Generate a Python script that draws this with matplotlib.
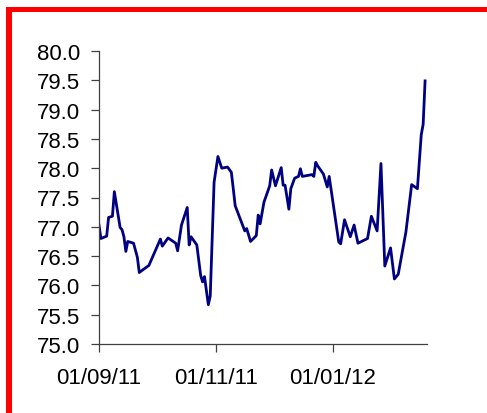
import matplotlib
matplotlib.use("Agg")
import matplotlib.pyplot as plt
from matplotlib.patches import Rectangle
import pandas as pd

dates = [
    "2011-09-01", "2011-09-02", "2011-09-05", "2011-09-06", "2011-09-08", "2011-09-09",
    "2011-09-12", "2011-09-13", "2011-09-14", "2011-09-15", "2011-09-16", "2011-09-19",
    "2011-09-21", "2011-09-22", "2011-09-24", "2011-09-27", "2011-10-03", "2011-10-04",
    "2011-10-07", "2011-10-11", "2011-10-12", "2011-10-14", "2011-10-17", "2011-10-18",
    "2011-10-19", "2011-10-22", "2011-10-24", "2011-10-25", "2011-10-26", "2011-10-28",
    "2011-10-29", "2011-10-31", "2011-11-02", "2011-11-04", "2011-11-07", "2011-11-09",
    "2011-11-10", "2011-11-11", "2011-11-16", "2011-11-17", "2011-11-19", "2011-11-22",
    "2011-11-23", "2011-11-24", "2011-11-26", "2011-11-29", "2011-11-30", "2011-12-02",
    "2011-12-05", "2011-12-06", "2011-12-07", "2011-12-09", "2011-12-10", "2011-12-12",
    "2011-12-14", "2011-12-15", "2011-12-16", "2011-12-21", "2011-12-22", "2011-12-23",
    "2011-12-24", "2011-12-27", "2011-12-29", "2011-12-30", "2012-01-04", "2012-01-05",
    "2012-01-07", "2012-01-10", "2012-01-12", "2012-01-14", "2012-01-19", "2012-01-21",
    "2012-01-24", "2012-01-26", "2012-01-28", "2012-01-31", "2012-02-02", "2012-02-04",
    "2012-02-08", "2012-02-11", "2012-02-14", "2012-02-16", "2012-02-17", "2012-02-18",
]
values = [
    77.03, 76.80, 76.84, 77.16, 77.18, 77.60,
    76.99, 76.95, 76.83, 76.58, 76.75, 76.72,
    76.48, 76.22, 76.27, 76.34, 76.79, 76.67,
    76.81, 76.72, 76.59, 77.03, 77.33, 76.69,
    76.83, 76.69, 76.17, 76.06, 76.15, 75.67,
    75.82, 77.76, 78.20, 78.00, 78.02, 77.93,
    77.65, 77.36, 76.93, 76.97, 76.75, 76.85,
    77.20, 77.05, 77.42, 77.70, 77.97, 77.70,
    78.01, 77.71, 77.71, 77.30, 77.65, 77.83,
    77.86, 77.99, 77.86, 77.89, 77.86, 78.10,
    78.04, 77.90, 77.68, 77.86, 76.74, 76.71,
    77.12, 76.83, 77.03, 76.72, 76.80, 77.18,
    76.93, 78.08, 76.33, 76.64, 76.11, 76.19,
    76.91, 77.72, 77.65, 78.57, 78.75, 79.49,
]
tick_dates = ["2011-09-01", "2011-11-01", "2012-01-01"]
tick_labels = ["01/09/11", "01/11/11", "01/01/12"]
y_ticks = [75.0, 75.5, 76.0, 76.5, 77.0, 77.5, 78.0, 78.5, 79.0, 79.5, 80.0]

plt.rcParams['font.family'] = ['Liberation Sans', 'DejaVu Sans']

W, H = 487, 414
fig = plt.figure(figsize=(W / 100, H / 100), dpi=100)
ax = fig.add_axes([99 / W, 1 - 345 / H, (427 - 99) / W, (345 - 52) / H])

x = pd.to_datetime(dates)
ax.plot(x, values, color='#000080', lw=2.0, solid_joinstyle='round')

ax.set_ylim(75.0, 80.0)
ax.set_yticks(y_ticks)
ax.set_yticklabels([f"{v:.1f}" for v in y_ticks])
ax.set_xlim(pd.Timestamp("2011-09-01"), pd.Timestamp("2012-02-19"))
ax.set_xticks(pd.to_datetime(tick_dates))
ax.set_xticklabels(tick_labels)

for s in ['top', 'right']:
    ax.spines[s].set_visible(False)
for s in ['left', 'bottom']:
    ax.spines[s].set_color('#404040')
    ax.spines[s].set_linewidth(0.9)
ax.tick_params(axis='both', direction='out', length=5.5, width=0.9, color='#404040',
               labelsize=16, labelcolor='black')
ax.tick_params(axis='y', pad=8)
ax.tick_params(axis='x', pad=11)

# red frame
fig.patches.append(Rectangle((6 / W, 1 - 13 / H), 1 - 6 / W, 5 / H,
                             transform=fig.transFigure, color='#ff0000', lw=0, zorder=10))
fig.patches.append(Rectangle((6 / W, 0), 5.5 / W, 1 - 8 / H,
                             transform=fig.transFigure, color='#ff0000', lw=0, zorder=10))

fig.savefig("out.png", dpi=100)
